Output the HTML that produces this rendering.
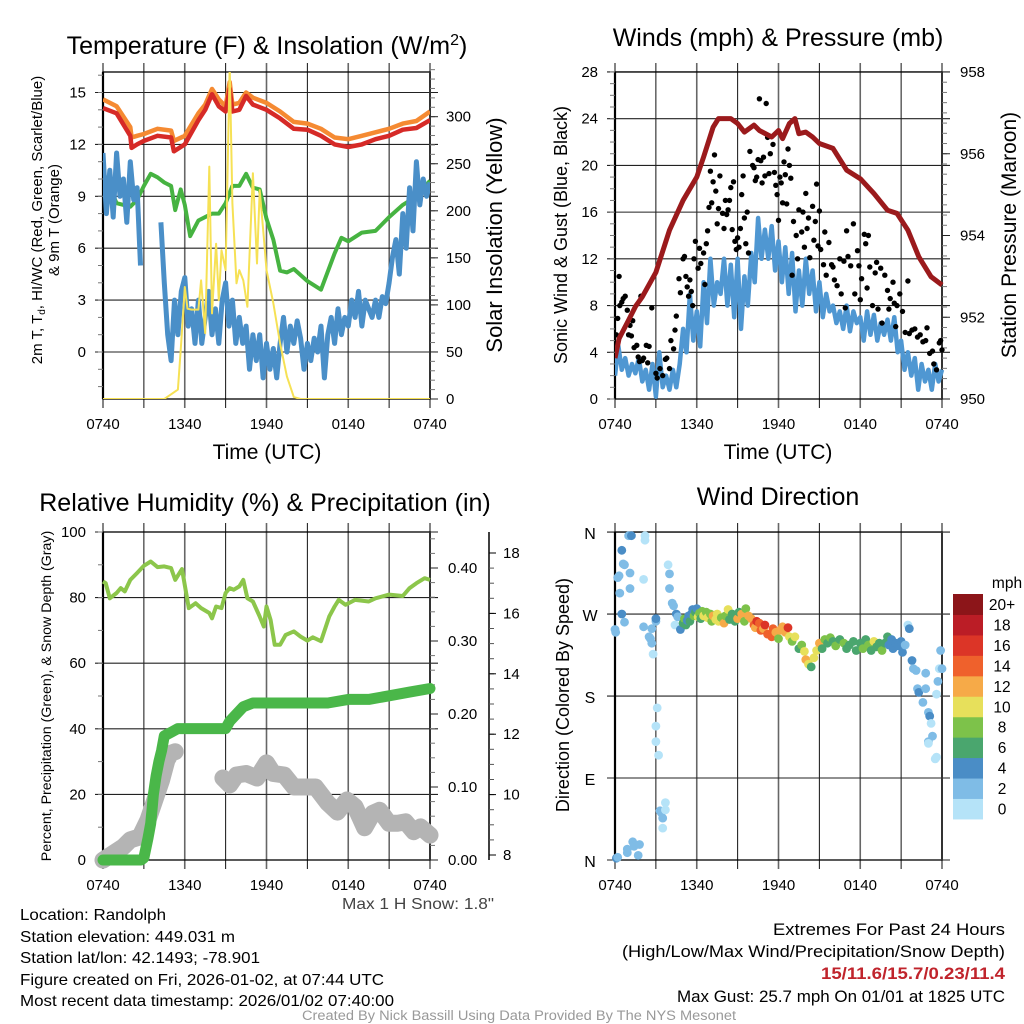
<!DOCTYPE html>
<html><head><meta charset="utf-8"><style>
html,body{margin:0;padding:0;background:#fff}
svg{display:block}
text{font-family:"Liberation Sans",Arial,sans-serif;fill:#000}
</style></head><body>
<svg id="s" width="1024" height="1024" viewBox="0 0 1024 1024" xmlns="http://www.w3.org/2000/svg">
<g id="g1"></g>
<g id="g2"></g>
<g id="g3"></g>
<g id="g4"></g>
<g id="txt">
<text x="20" y="920" font-size="16" textLength="146" lengthAdjust="spacingAndGlyphs">Location: Randolph</text>
<text x="20" y="942" font-size="16" textLength="215" lengthAdjust="spacingAndGlyphs">Station elevation: 449.031 m</text>
<text x="20" y="963" font-size="16" textLength="240" lengthAdjust="spacingAndGlyphs">Station lat/lon: 42.1493; -78.901</text>
<text x="20" y="985" font-size="16" textLength="364" lengthAdjust="spacingAndGlyphs">Figure created on Fri, 2026-01-02, at 07:44 UTC</text>
<text x="20" y="1006" font-size="16" textLength="374" lengthAdjust="spacingAndGlyphs">Most recent data timestamp: 2026/01/02 07:40:00</text>
<text x="342" y="909" font-size="16" textLength="152" lengthAdjust="spacingAndGlyphs" style="fill:#444">Max 1 H Snow: 1.8"</text>
<text x="1005" y="935" font-size="16.5" text-anchor="end" textLength="232" lengthAdjust="spacingAndGlyphs">Extremes For Past 24 Hours</text>
<text x="1005" y="957" font-size="16.5" text-anchor="end" textLength="383" lengthAdjust="spacingAndGlyphs">(High/Low/Max Wind/Precipitation/Snow Depth)</text>
<text x="1005" y="979" font-size="16.5" font-weight="bold" text-anchor="end" textLength="184" lengthAdjust="spacingAndGlyphs" style="fill:#c0242c">15/11.6/15.7/0.23/11.4</text>
<text x="1005" y="1002" font-size="16.5" text-anchor="end" textLength="328" lengthAdjust="spacingAndGlyphs">Max Gust: 25.7 mph On 01/01 at 1825 UTC</text>
<text x="302" y="1020" font-size="13.5" textLength="434" lengthAdjust="spacingAndGlyphs" style="fill:#999">Created By Nick Bassill Using Data Provided By The NYS Mesonet</text>
</g>
</svg>
<script>
// ---------- data ----------
const xTickLabels=["0740","1340","1940","0140","0740"];
const hourT=[0,1,2,3,4,5,6,7,8,9,10,11,12,13,14,15,16,17,18,19,20,21,22,23,24];
// Temperature panel
const redT=[0,1,2,2.1,2.5,3,4,5,5.2,6,7,7.5,8,8.5,9,9.3,9.5,10,10.5,11,12,13,14,15,16,17,18,19,20,21,22,23,24];
const redV=[14.1,13.8,12.5,11.8,12.0,12.2,12.5,12.4,11.6,12.0,13.4,14.0,14.9,14.2,13.9,15.2,13.9,14.0,14.8,14.3,14.0,13.5,12.9,12.85,12.5,12.0,11.85,12.0,12.3,12.5,12.85,12.95,13.4];
const orangeV=[14.6,14.2,13.0,12.4,12.5,12.6,12.9,12.8,12.2,12.5,13.8,14.3,15.2,14.6,14.2,15.6,14.3,14.4,15.0,14.7,14.4,13.9,13.3,13.2,12.9,12.4,12.3,12.5,12.7,12.9,13.2,13.35,13.9];
const greenT=[0,1,2,2.5,3,3.5,4,4.5,5,5.3,5.7,6,6.4,7,7.5,8,8.5,9,9.5,10,10.5,11,11.5,12,12.5,13,13.5,14,15,16,17,17.5,18,19,20,21,22,23,24];
const greenV=[10.4,8.6,8.4,8.8,9.6,10.3,10.1,9.8,9.6,8.2,9.4,8.5,6.7,7.6,7.8,8.0,8.0,8.6,9.6,9.6,10.3,9.5,9.4,7.7,6.5,4.7,4.6,4.8,4.1,3.6,5.7,6.6,6.4,6.9,7.0,7.8,8.5,9.0,9.9];
const blueV=[11.5,8,10.5,7.8,11.5,9,10,7.5,11,8.8,9.5,5,null,null,null,null,null,7.5,4,1,-0.5,3,1,3.5,4.3,1.5,2.5,0.5,3,0.5,2,3.5,1,2.5,0.5,3,4,1.5,3,0.5,2,0.5,1.5,-1,1,-0.5,1,-1.5,0.5,-1,0.2,-1.5,0.5,2,0,1.5,0.5,1.8,0.8,-1,0.5,-0.5,0.8,0,1.5,-1.5,1,2,0.5,2.5,1,2,1.5,3,2,3.5,1.5,3,2.5,2,3,2,3.2,2.8,4,5.5,6.5,4.5,8,6,9.5,7,11,8.5,10,9,9.8];
const solarT=[0,4.5,5,5.5,5.7,5.9,6,6.2,6.5,7,7.2,7.5,7.8,8,8.3,8.5,8.7,9,9.3,9.5,9.8,10,10.3,10.6,11,11.3,11.5,11.8,12,12.5,13,13.5,14,14.5,24];
const solarV=[0,0,5,10,52,95,119,96,95,95,126,70,247,91,165,105,158,137,354,208,123,137,126,98,240,144,222,172,137,102,59,24,2,0,0];
const p1LeftTicks=[0,3,6,9,12,15];
const p1RightTicks=[0,50,100,150,200,250,300];
// Winds panel
const windV=[2,4.5,2.5,3.5,2,3,2.2,3.5,1.5,2.5,0.8,3,0.2,4,1,2,0.8,2.5,1,3,6,4,9,5,7.5,4.5,10,6.5,12,8,10,9,12,8,11.5,7,12,6,10.5,8,12.5,10,15.5,12,14.5,12,14.8,11,13.5,10,13,9,12.5,7.5,11,8,12,9,11,7.5,10,7,9,7.5,8,6.5,7.5,6,8,5.8,7.5,6.5,7,5,7.5,5.5,7.2,5,6.5,5.5,6.8,5,7,4,5,2.5,4,2,3.5,0.8,3,1.5,2.5,0.8,3,1.5,2.5];
const gustT=[0,0.1,0.2,0.3,0.35,0.5,0.6,0.75,0.9,1.0,1.1,1.2,1.3,1.4,1.6,1.7,1.8,1.9,2.0,2.1,2.3,2.4,2.5,2.7,3.0,3.1,3.3,3.5,3.7,3.8,4.0,4.1,4.3,4.4,4.5,4.7,4.8,5.0,5.1,5.2,5.3,5.4,5.5,5.6,5.7,5.8,5.9,6.1,6.2,6.3,6.5,6.6,6.7,6.8,6.9,7.0,7.1,7.2,7.3,7.4,7.5,7.6,7.7,7.9,8.0,8.1,8.2,8.3,8.4,8.5,8.6,8.7,8.8,8.9,9.0,9.1,9.2,9.3,9.4,9.5,9.6,9.7,9.8,9.9,10.1,10.2,10.3,10.4,10.5,10.6,10.7,10.8,10.9,11.0,11.1,11.2,11.3,11.4,11.6,11.7,11.8,11.9,12.0,12.1,12.2,12.3,12.4,12.5,12.6,12.7,12.8,12.9,13.0,13.1,13.3,13.4,13.5,13.7,13.8,13.9,14.0,14.1,14.2,14.3,14.5,14.6,14.7,14.8,14.9,15.0,15.1,15.3,15.4,15.5,15.7,15.9,16.0,16.1,16.3,16.5,16.6,16.8,16.9,17.0,17.1,17.3,17.5,17.6,17.8,17.9,18.0,18.1,18.3,18.4,18.5,18.6,18.7,18.9,19.1,19.2,19.3,19.5,19.6,19.8,20.0,20.1,20.2,20.4,20.5,20.6,20.7,20.9,21.1,21.3,21.5,21.6,21.8,22.0,22.2,22.4,22.6,22.8,22.9,23.1,23.3,23.4,23.6,23.8,23.9,24.0];
const gustV=[4.3,5.5,6.9,10.5,8,8.3,8.6,8.8,7.6,5.5,6.3,5.4,6.7,4.4,4.6,3.6,3.2,8.8,3.3,3.5,4.6,3.1,4.5,7.8,2.2,1.8,2.6,2.0,3.4,3.5,2.6,5.0,4.3,5.9,7.1,10.3,9.1,12,12.2,10.5,9.6,8.8,10.2,9.2,8.0,12,13.5,11.2,12.9,11.6,12.5,9.8,13.3,14.4,16.4,19.5,16.8,18.6,20.9,17.8,15.0,16.3,19.1,15.9,14.6,17.0,15.8,16.2,17.0,18.1,14.5,18.6,13.5,12.8,13.8,13.0,14.6,17.5,19.1,15.5,13.3,16.0,12.5,21.2,20.0,19.8,18.7,19.0,20.5,25.7,20.4,18.5,20.7,19.1,25.3,22.4,19.3,21.0,21.8,19.4,18.3,17.5,15.3,19.0,18.5,16.8,20.3,19.2,16.7,21.4,20.0,18.9,10.6,15.2,14.0,12.0,16.2,14.3,16.0,13.0,17.6,14.6,15.5,12.1,16.5,13.6,15.2,18.4,13.1,16.1,12.8,11.5,14.3,10.6,13.4,11.5,11.3,10.2,9.7,12.0,9.0,11.8,7.8,14.4,12.2,11.4,15.0,9.0,12.7,11.4,8.5,10.3,14.1,13.3,9.5,14.0,11.3,8.0,10.8,11.7,7.7,11.2,6.5,10.6,9.3,7.7,8.6,10.0,8.2,6.2,8.0,9.0,7.5,5.7,10.1,5.6,5.9,6.0,5.3,5.5,4.9,5.0,6.1,3.9,4.1,3.0,2.5,4.8,5.0,4.2];
const presT=[0,0.3,1,1.5,2,3,4,5,6,6.5,7.2,7.6,8.5,9,9.5,10.2,10.6,11.5,12,12.3,12.8,13.2,13.5,14,14.5,15,16,17,18,19,20,20.7,21.5,22.3,23.2,24];
const presV=[951.0,951.48,951.93,952.26,952.5,953.1,954.13,954.86,955.43,955.92,956.65,956.86,956.86,956.74,956.53,956.7,956.57,956.41,956.57,956.37,956.74,956.86,956.49,956.53,956.41,956.25,956.13,955.6,955.39,955.03,954.62,954.54,954.13,953.48,952.99,952.79];
const p2LeftTicks=[0,4,8,12,16,20,24,28];
const p2RightTicks=[950,952,954,956,958];
// Humidity panel
const rhT=[0,0.2,0.5,1,1.3,1.6,2,2.5,3,3.5,4,4.5,5,5.3,5.8,6.3,6.8,7.2,7.8,8,8.3,8.7,9,9.3,9.6,10,10.3,10.6,11,11.5,11.8,12,12.3,12.6,13,13.4,14,14.5,15,15.4,16,16.6,17,17.3,17.8,18.5,19.5,20,21,22,22.5,23,23.6,24];
const rhV=[84.9,84.4,79.8,81.4,82.9,81.9,85.4,87.5,89.7,91,89.3,89.5,89,85.4,88.7,76.8,78.3,76.8,75.3,73.7,77.3,76.8,81.4,82.9,82.4,83.4,85.4,79.8,78.8,74.2,71.2,77.3,73.2,65.6,65.6,68.6,69.7,68.1,66.9,67.9,66.7,74.2,77.3,79.3,77.8,79.3,78.8,79.8,80.9,80.5,82.9,84.4,85.9,85.4];
const precipT=[0,1,2,2.8,3,3.3,3.5,3.6,3.7,3.9,4.1,4.3,4.5,5,5.5,6,7,8,9,9.3,9.8,10.3,11,13,15,16.5,18,19.5,21,22.5,24];
const precipV=[0,0,0,0,0.003,0.03,0.05,0.07,0.09,0.115,0.135,0.15,0.17,0.175,0.18,0.18,0.18,0.18,0.18,0.19,0.2,0.21,0.215,0.215,0.215,0.215,0.22,0.22,0.225,0.23,0.235];
const snowT=[0,1.5,2,2.7,3.3,3.8,4.3,4.7,5,5.3,null,8.8,9.3,9.8,10.5,11.3,12,12.5,13.3,14,15,15.6,16.5,17.2,17.9,18.5,19.2,19.8,20.3,21,21.6,22.2,22.8,23.3,24];
const snowV=[7.83,8.27,8.5,8.6,9.16,9.82,10.48,11.15,11.37,11.42,null,10.55,10.32,10.65,10.7,10.55,11.05,10.7,10.65,10.25,10.25,10.25,9.72,9.42,9.82,9.6,8.9,9.38,9.48,9.05,9.05,9.1,8.77,8.93,8.66];
const p3LeftTicks=[0,20,40,60,80,100];
const p3PrecipTicks=[0,0.1,0.2,0.3,0.4];
const p3PrecipLabels=["0.00","0.10","0.20","0.30","0.40"];
const p3SnowTicks=[8,10,12,14,16,18];
// Direction panel
const dirT=[0,0.05,0.1,0.2,0.2,0.3,0.35,0.5,0.5,0.6,0.7,0.7,0.9,0.9,1.0,1.1,1.1,1.2,1.3,1.4,1.7,1.8,2.1,2.2,2.2,2.1,2.5,2.6,2.7,2.8,2.7,3.0,3.0,3.1,3.0,3.0,3.2,3.3,3.4,3.5,3.5,3.7,3.7,3.9,4.0,4.0,4.2,4.3,4.4,4.5,4.6,4.8,5.0,5.1,5.2,5.3,5.4,5.5,5.6,5.7,5.8,5.9,6.0,6.1,6.2,6.3,6.4,6.5,6.7,6.8,7.0,7.1,7.2,7.4,7.5,7.6,7.8,8.0,8.1,8.3,8.4,8.6,8.8,9.0,9.1,9.3,9.5,9.6,9.8,10.0,10.2,10.3,10.4,10.6,10.7,10.9,11.0,11.2,11.5,11.6,11.8,12.0,12.1,12.3,12.5,12.7,12.8,13.0,13.2,13.5,13.7,13.9,14.0,14.2,14.4,14.6,14.8,15.0,15.2,15.4,15.6,15.8,16.0,16.2,16.5,16.8,17.0,17.2,17.5,17.7,18.0,18.2,18.4,18.6,18.8,19.0,19.2,19.4,19.6,19.8,20.0,20.1,20.3,20.4,20.6,20.8,21.0,21.1,21.3,21.5,21.6,21.8,21.9,22.1,22.2,22.3,22.6,22.8,22.8,23.0,23.1,23.2,23.3,23.0,23.0,23.5,23.6,23.6,23.8,23.9,24.0,23.7];
const dirV=[253,250,2,3,310,312,293,270,340,325,324,261,8,12,356,315,298,356,20,15,5,17,256,351,356,308,245,243,238,226,254,262,265,167,147,130,115,54,52,46,35,63,55,324,314,298,282,279,258,270,267,253,260,265,258,263,268,262,270,275,268,272,276,267,271,265,273,268,272,266,270,262,268,264,270,262,266,260,268,275,264,270,262,265,272,270,262,276,268,265,258,255,262,260,252,254,258,248,245,254,250,243,252,256,250,255,245,240,245,232,236,229,220,215,212,222,230,238,232,242,238,244,240,235,242,238,232,236,240,230,238,232,242,236,230,240,234,238,230,238,245,236,242,232,238,235,240,228,236,258,254,219,210,208,188,184,173,205,188,162,158,150,136,130,128,111,113,182,210,230,210,196];
const dirSpd=[3,2,4,3,3,2,3,4,4,3,3,3,3,3,2,3,3,4,3,3,2,3,3,1,1,1,2,3,3,1,2,3,4,1,1,1,1,3,3,3,1,1,1,1,3,2,2,3,1,4,3,4,6,8,6,4,4,6,5,4,8,6,4,10,8,7,8,11,8,10,9,8,13,11,11,10,8,13,9,10,7,6,7,12,6,13,8,8,12,12,15,13,17,15,14,13,16,14,15,15,12,8,12,12,13,16,10,8,10,7,8,10,12,11,7,11,10,12,7,8,6,8,7,8,6,8,6,7,6,6,7,8,6,8,7,10,6,7,8,6,6,5,4,5,4,4,4,4,3,1,4,4,3,3,3,4,3,3,3,2,4,1,2,2,1,1,1,1,1,3,3,2];
const cbLabels=["0","2","4","6","8","10","12","14","16","18","20+"];
const cbColors=["#b5e3f8","#7fbce6","#4a8dc6","#4aa66e","#7dc24a","#e7e05b","#f6aa48","#ef612c","#dc3527","#bb1d26","#8c1519"];
const dirTicks=[0,90,180,270,360];
const dirLabels=["N","E","S","W","N"];

// ---------- helpers ----------
const NS="http://www.w3.org/2000/svg";
function mk(parent,tag,attrs){const e=document.createElementNS(NS,tag);for(const k in attrs)e.setAttribute(k,attrs[k]);parent.appendChild(e);return e;}
function tx(parent,x,y,str,size,anchor,rot){const e=mk(parent,'text',{x:x,y:y,'font-size':size,'text-anchor':anchor||'middle'});if(rot)e.setAttribute('transform','rotate(-90 '+x+' '+y+')');e.textContent=str;return e;}
function pathOf(ts,vs,X,Y){let d='',pen=false;for(let i=0;i<ts.length;i++){if(vs[i]===null||ts[i]===null){pen=false;continue;}d+=(pen?'L':'M')+X(ts[i]).toFixed(1)+' '+Y(vs[i]).toFixed(1);pen=true;}return d;}

function frame(g,L,R,T,B,hLines,Y,name){
  for(let h=0;h<=24;h+=3){const x=L+(R-L)*h/24;
    const gl=mk(g,'line',{x1:x,x2:x,y1:T-9,y2:B+9,stroke:(h%6===3)?'#111':'#666','stroke-width':(h%6===3)?1:1.6});
    
    }
  for(const v of hLines){const y=Y(v);
    const hl=mk(g,'line',{x1:L-8,x2:R+8,y1:y,y2:y,stroke:'#222','stroke-width':1.1});
    
    }
  const b=mk(g,'rect',{x:L,y:T,width:R-L,height:B-T,fill:'none',stroke:'#000','stroke-width':1.3});
  
  
  mk(g,'line',{x1:L,x2:L,y1:T,y2:B,stroke:'#000','stroke-width':2.2});
  mk(g,'line',{x1:R,x2:R,y1:T,y2:B,stroke:'#333','stroke-width':2});
  xTickLabels.forEach((s,i)=>{const t=tx(g,L+(R-L)*i/4,B+30,s,15);
    
    });
}
function minor(g,x,Y,from,to,step,dir){for(let v=from;v<=to+1e-9;v+=step){const y=Y(v);mk(g,'line',{x1:x,x2:x+dir*5,y1:y,y2:y,stroke:'#777','stroke-width':1});}}
function dots(g,ts,vs,X,Y,r,col,name){for(let i=0;i<ts.length;i++){if(vs[i]===null||ts[i]===null)continue;const c=mk(g,'circle',{cx:X(ts[i]).toFixed(1),cy:Y(vs[i]).toFixed(1),r:r,fill:col});
  
  }}

// ---------- panel 1 ----------
(function(){
 const g=document.getElementById('g1');const L=103,R=430,T=72,B=399;
 const X=t=>L+(R-L)*t/24, Y=v=>352-v*17.3, YR=v=>399-v*0.941;
 frame(g,L,R,T,B,p1LeftTicks,Y,'temperature');
 minor(g,L,Y,-2,16,1,-1);minor(g,R,YR,0,350,10,1);
 p1RightTicks.forEach(v=>{mk(g,'line',{x1:R,x2:R+8,y1:YR(v),y2:YR(v),stroke:'#222'});const t=tx(g,R+16,YR(v)+5,String(v),15,'start');});
 p1LeftTicks.forEach(v=>{const t=tx(g,86,Y(v)+5,String(v),15,'end');});
 const cl=mk(g,'g',{'clip-path':'url(#c1)'});
 const cp=mk(document.getElementById('s'),'clipPath',{id:'c1'});mk(cp,'rect',{x:L,y:T,width:R-L,height:B-T});
 let p=mk(cl,'path',{d:pathOf(greenT,greenV,X,Y),fill:'none',stroke:'#46b341','stroke-width':4,'stroke-linejoin':'round'});
 
 p=mk(cl,'path',{d:pathOf(hourT.flatMap((h,i)=>i<24?[h,h+0.25,h+0.5,h+0.75]:[h]),blueV,X,Y),fill:'none',stroke:'#4a8fc8','stroke-width':5,'stroke-linejoin':'round'});
 
 p=mk(cl,'path',{d:pathOf(redT,orangeV,X,Y),fill:'none',stroke:'#f58a32','stroke-width':4.5,'stroke-linejoin':'round'});
 
 p=mk(cl,'path',{d:pathOf(redT,redV,X,Y),fill:'none',stroke:'#d62a27','stroke-width':4.5,'stroke-linejoin':'round'});
 
 p=mk(cl,'path',{d:pathOf(solarT,solarV,X,YR),fill:'none',stroke:'#f6e155','stroke-width':2,'stroke-linejoin':'round'});
 
 let t=mk(g,'text',{x:267,y:54,'font-size':25,'text-anchor':'middle'});t.innerHTML='Temperature (F) &amp; Insolation (W/m<tspan dy="-9" font-size="16">2</tspan><tspan dy="9">)</tspan>';
 
 t=tx(g,267,459,'Time (UTC)',21);
 t=mk(g,'text',{x:42,y:220,'font-size':15,'text-anchor':'middle',transform:'rotate(-90 42 220)'});t.innerHTML='2m T, T<tspan dy="3" font-size="10">d</tspan><tspan dy="-3">, HI/WC (Red, Green, Scarlet/Blue)</tspan>';
 
 t=tx(g,59,220,'& 9m T (Orange)',15,'middle',true);
 t=tx(g,502,235,'Solar Insolation (Yellow)',22,'middle',true);
})();

// ---------- panel 2 ----------
(function(){
 const g=document.getElementById('g2');const L=615,R=942,T=72,B=399;
 const X=t=>L+(R-L)*t/24, Y=v=>399-v*11.68, YP=p=>399-(p-950)*40.875;
 frame(g,L,R,T,B,p2LeftTicks,Y,'winds');
 minor(g,L,Y,0,28,1,-1);minor(g,R,YP,950,958,0.25,1);
 p2LeftTicks.forEach(v=>{const t=tx(g,598,Y(v)+5,String(v),15,'end');});
 p2RightTicks.forEach(v=>{mk(g,'line',{x1:R,x2:R+8,y1:YP(v),y2:YP(v),stroke:'#222'});const t=tx(g,960,YP(v)+5,String(v),15,'start');});
 const cl=mk(g,'g',{'clip-path':'url(#c2)'});
 const cp=mk(document.getElementById('s'),'clipPath',{id:'c2'});mk(cp,'rect',{x:L,y:T-2,width:R-L+4,height:B-T+4});
 let p=mk(cl,'path',{d:pathOf(hourT.flatMap((h,i)=>i<24?[h,h+0.25,h+0.5,h+0.75]:[h]),windV,X,Y),fill:'none',stroke:'#4f97d2','stroke-width':4.5,'stroke-linejoin':'round'});
 
 dots(cl,gustT,gustV,X,Y,2.7,'#000','gust-point');
 p=mk(cl,'path',{d:pathOf(presT,presV,X,YP),fill:'none',stroke:'#9b1a1c','stroke-width':5,'stroke-linejoin':'round'});
 
 let t=tx(g,778,46,'Winds (mph) & Pressure (mb)',25);
 t=tx(g,778,459,'Time (UTC)',21);
 t=tx(g,567,235,'Sonic Wind & Gust (Blue, Black)',18,'middle',true);
 t=tx(g,1016,235,'Station Pressure (Maroon)',21,'middle',true);
})();

// ---------- panel 3 ----------
(function(){
 const g=document.getElementById('g3');const L=103,R=430,T=532,B=860;
 const X=t=>L+(R-L)*t/24, Y=v=>860-v*3.28, YP=v=>860-v*730, YS=s=>855-(s-8)*30.2;
 frame(g,L,R,T,B,[0,20,40,60,80,100],Y,'humidity');
 minor(g,L,Y,0,100,10,-1);minor(g,R,YP,0,0.44,0.02,1);
 p3LeftTicks.forEach(v=>{const t=tx(g,86,Y(v)+5,String(v),15,'end');});
 p3PrecipTicks.forEach((v,i)=>{mk(g,'line',{x1:R,x2:R+8,y1:YP(v),y2:YP(v),stroke:'#222'});const t=tx(g,448,YP(v)+5,p3PrecipLabels[i],15,'start');});
 const ax=mk(g,'line',{x1:489,x2:489,y1:532,y2:860,stroke:'#000','stroke-width':1.5});
 
 for(let s=8;s<=18.01;s+=0.5){mk(g,'line',{x1:489,x2:494,y1:YS(s),y2:YS(s),stroke:'#555'});}
 p3SnowTicks.forEach(v=>{mk(g,'line',{x1:489,x2:496,y1:YS(v),y2:YS(v),stroke:'#000'});const t=tx(g,503,YS(v)+5,String(v),15,'start');});
 let p=mk(g,'path',{d:pathOf(snowT,snowV,X,YS),fill:'none',stroke:'#b4b4b4','stroke-width':17,'stroke-linejoin':'round','stroke-linecap':'round'});
 
 p=mk(g,'path',{d:pathOf(precipT,precipV,X,YP),fill:'none',stroke:'#4ab749','stroke-width':11,'stroke-linejoin':'round','stroke-linecap':'round'});
 
 p=mk(g,'path',{d:pathOf(rhT,rhV,X,Y),fill:'none',stroke:'#8cc64b','stroke-width':4,'stroke-linejoin':'round'});
 
 let t=tx(g,265,511,'Relative Humidity (%) & Precipitation (in)',25);
 t=tx(g,51,696,'Percent, Precipitation (Green), & Snow Depth (Gray)',14.2,'middle',true);
})();

// ---------- panel 4 ----------
(function(){
 const g=document.getElementById('g4');const L=615,R=942,T=532,B=860;
 const X=t=>L+(R-L)*t/24, Y=d=>860-d*0.911;
 frame(g,L,R,T,B,dirTicks,Y,'direction');
 dirTicks.forEach((v,i)=>{const t=tx(g,590,Y(v)+7,dirLabels[i],16,'middle');});
 for(let i=0;i<dirT.length;i++){const b=Math.min(10,Math.floor(dirSpd[i]/2));
  const c=mk(g,'circle',{cx:X(dirT[i]).toFixed(1),cy:Y(dirV[i]).toFixed(1),r:4.4,fill:cbColors[b]});
  
  }
 const cbX=953,cbTop=594,cbH=20.45;
 cbColors.forEach((col,i)=>{const r=mk(g,'rect',{x:cbX,y:(cbTop+(10-i)*cbH).toFixed(1),width:30,height:cbH+0.5,fill:col});
  
  const t=tx(g,1002,cbTop+(10-i)*cbH+16,cbLabels[i],15.5,'middle');});
 let t=tx(g,1007,588,'mph',15.5);
 t=tx(g,778,505,'Wind Direction',25);
 t=tx(g,569,695,'Direction (Colored By Speed)',18,'middle',true);
})();
</script>
</body></html>
